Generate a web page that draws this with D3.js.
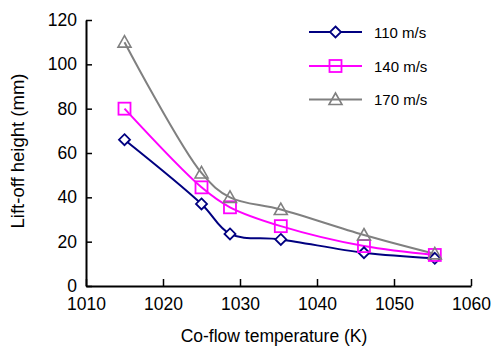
<!DOCTYPE html>
<html><head><meta charset="utf-8">
<script src="https://cdn.jsdelivr.net/npm/d3@7"></script>
<style>body{margin:0;background:#fff}svg{display:block}text{font-family:"Liberation Sans",Arial,sans-serif;fill:#000}</style>
</head><body><svg id="c" width="491" height="347"></svg>
<script>
const temps = [1015, 1025, 1028.7, 1035.3, 1046.1, 1055.3];
const v110 = [66, 37, 23.5, 21, 15, 12.5];
const v140 = [80, 44.5, 35.5, 27, 18, 14];
const v170 = [110, 51, 40, 34.5, 23, 14.5];
const seriesNames = ["110 m/s", "140 m/s", "170 m/s"];
const xTicks = [1010, 1020, 1030, 1040, 1050, 1060];
const yTicks = [0, 20, 40, 60, 80, 100, 120];

const colors = ["#000080", "#FF00FF", "#808080"];
const symbols = ["diamond", "square", "triangle"];
const series = [v110, v140, v170].map((v, i) => ({name: seriesNames[i], values: v, color: colors[i], sym: symbols[i]}));

const FONT = "'Liberation Sans', Arial, sans-serif";
const svg = d3.select("#c");
const x = d3.scaleLinear().domain([1010, 1060]).range([86, 471]);
const y = d3.scaleLinear().domain([0, 120]).range([286, 20]);

const xa = svg.append("g").attr("transform", "translate(0,286)")
  .call(d3.axisBottom(x).tickValues(xTicks).tickFormat(d3.format("d")).tickSizeInner(-7).tickSizeOuter(0).tickPadding(12));
const ya = svg.append("g").attr("transform", "translate(86,0)")
  .call(d3.axisLeft(y).tickValues(yTicks).tickFormat(d3.format("d")).tickSizeInner(-6).tickSizeOuter(0).tickPadding(9));
[xa, ya].forEach(a => {
  a.attr("font-family", FONT).attr("font-size", 17.5);
  a.select(".domain").attr("stroke", "#000").attr("stroke-width", 2);
  a.selectAll(".tick line").attr("stroke", "#000").attr("stroke-width", 1.5);
  a.selectAll(".tick text").attr("fill", "#000");
});

svg.append("text").attr("x", 274).attr("y", 342).attr("text-anchor", "middle").attr("font-size", 17.5).text("Co-flow temperature (K)");
svg.append("text").attr("transform", "translate(24,151) rotate(-90)").attr("text-anchor", "middle").attr("font-size", 18.5).text("Lift-off height (mm)");

const line = d3.line().x((d, i) => x(temps[i])).y(d => y(d)).curve(d3.curveCatmullRom.alpha(0.5));

function marker(g, sym, cx, cy, color) {
  if (sym === "diamond") {
    g.append("path").attr("d", `M${cx},${cy-5.5}L${cx+5.5},${cy}L${cx},${cy+5.5}L${cx-5.5},${cy}Z`)
      .attr("fill", "#fff").attr("stroke", color).attr("stroke-width", 1.8);
  } else if (sym === "square") {
    g.append("rect").attr("x", cx-6).attr("y", cy-6).attr("width", 12).attr("height", 12)
      .attr("fill", "none").attr("stroke", color).attr("stroke-width", 1.8);
  } else {
    g.append("path").attr("d", `M${cx},${cy-6.5}L${cx+6.5},${cy+5}L${cx-6.5},${cy+5}Z`)
      .attr("fill", "none").attr("stroke", color).attr("stroke-width", 1.6);
  }
}

series.forEach(s => {
  svg.append("path").datum(s.values).attr("d", line).attr("fill", "none").attr("stroke", s.color).attr("stroke-width", 2);
});
series.forEach(s => {
  const g = svg.append("g");
  s.values.forEach((v, i) => marker(g, s.sym, x(temps[i]), y(v), s.color));
});

const ly = [32, 66, 99.5];
series.forEach((s, i) => {
  const g = svg.append("g");
  g.append("line").attr("x1", 309).attr("x2", 362).attr("y1", ly[i]).attr("y2", ly[i]).attr("stroke", s.color).attr("stroke-width", 2);
  marker(g, s.sym, 335.5, ly[i], s.color);
  g.append("text").attr("x", 374).attr("y", ly[i] + 5.5).attr("font-size", 15).text(s.name);
});
</script></body></html>
